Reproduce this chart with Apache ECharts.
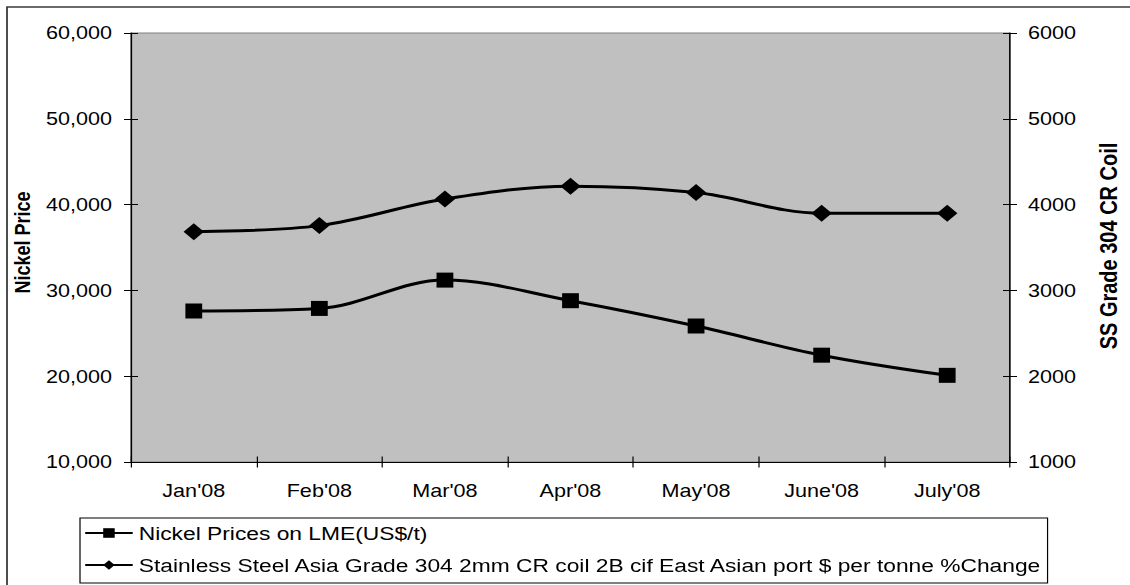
<!DOCTYPE html>
<html>
<head>
<meta charset="utf-8">
<title>Nickel and Stainless Steel Prices 2008</title>
<script src="https://cdn.jsdelivr.net/npm/echarts@6/dist/echarts.min.js"></script>
<style>
  html, body { margin: 0; padding: 0; background: #ffffff; overflow: hidden; }
  #wrap { position: relative; width: 1130px; height: 585px; overflow: hidden; background: #ffffff; }
  #chart { position: absolute; left: 0; top: 0; height: 585px; transform-origin: 0 0; }
</style>
</head>
<body>
<div id="wrap"><div id="chart"></div></div>
<script>
// ---- data ----
const months = ["Jan'08", "Feb'08", "Mar'08", "Apr'08", "May'08", "June'08", "July'08"];
const nickelPrices = [27600, 27900, 31200, 28800, 25850, 22450, 20100];   // US$/t, left axis
const steelPrices = [3685, 3755, 4065, 4215, 4140, 3900, 3900];           // $/tonne, right axis
const nickelAxis = { min: 10000, max: 60000, step: 10000 };
const steelAxis = { min: 1000, max: 6000, step: 1000 };
const nickelName = 'Nickel Prices on LME(US$/t)';
const steelName = 'Stainless Steel Asia Grade 304 2mm CR coil 2B cif East Asian port $ per tonne %Change';
const leftTitle = 'Nickel Price';
const rightTitle = 'SS Grade 304 CR Coil';

// ---- layout ----
// The whole chart is drawn with a wide horizontal aspect: it is laid out
// in a narrower box and stretched sideways by SX.
const SX = 1.2;
const W = 1130, H = 585;
const hx = v => v / SX;           // page x distance -> chart units

const FONT = '"Liberation Sans", Arial, Helvetica, sans-serif';
const INK = '#000000';

const el = document.getElementById('chart');
el.style.width = (W / SX) + 'px';
el.style.transform = 'scaleX(' + SX + ')';

const chart = echarts.init(el, null, { renderer: 'svg', width: W / SX, height: H });

const tickLabel = { color: INK, fontFamily: FONT, fontSize: 18, fontWeight: 'normal' };

function valueAxis(range, position, extra) {
  return Object.assign({
    type: 'value',
    position: position,
    min: range.min,
    max: range.max,
    interval: range.step,
    splitLine: { show: false },
    axisLine: { show: true, lineStyle: { color: INK, width: 1.2 } },
    axisTick: { show: true, length: hx(7), lineStyle: { color: INK, width: 1 } },
    axisLabel: Object.assign({ margin: hx(19) }, tickLabel)
  }, extra || {});
}

// inner half of the crossing tick marks
function innerTicks(range, position) {
  return {
    type: 'value',
    position: position,
    min: range.min,
    max: range.max,
    interval: range.step,
    splitLine: { show: false },
    axisLine: { show: false },
    axisLabel: { show: false },
    axisTick: { show: true, inside: true, length: hx(7), lineStyle: { color: INK, width: 1 } }
  };
}

const option = {
  animation: false,
  backgroundColor: '#ffffff',
  textStyle: { fontFamily: FONT, color: INK },
  graphic: [{
    type: 'rect',
    silent: true,
    z: -10,
    shape: { x: hx(7), y: 7, width: hx(1400), height: 800 },
    style: { fill: 'none', stroke: '#3a3a3a', lineWidth: 1.5 }
  }],
  grid: {
    left: hx(131),
    right: hx(W - 1019),
    top: 33,
    bottom: H - 462,
    show: true,
    backgroundColor: '#c0c0c0',
    borderColor: '#808080',
    borderWidth: 1
  },
  legend: {
    orient: 'vertical',
    left: hx(80),
    top: 518,
    padding: [5, hx(4), 8, hx(4)],
    itemGap: 12,
    itemWidth: hx(47.5),
    itemHeight: 12,
    borderColor: INK,
    borderWidth: 1,
    borderRadius: 0,
    backgroundColor: '#ffffff',
    selectedMode: false,
    lineStyle: { width: 2 },
    textStyle: { fontFamily: FONT, fontSize: 19, lineHeight: 20, color: INK },
    data: [nickelName, steelName]
  },
  xAxis: [{
    type: 'category',
    data: months,
    position: 'bottom',
    boundaryGap: true,
    axisLine: { show: true, onZero: false, lineStyle: { color: INK, width: 1.2 } },
    axisTick: { show: true, length: 5.5, lineStyle: { color: INK, width: 1 } },
    axisLabel: Object.assign({ margin: 20, interval: 0 }, tickLabel),
    splitLine: { show: false }
  }, {
    type: 'category',
    data: months,
    position: 'bottom',
    boundaryGap: true,
    axisLine: { show: false, onZero: false },
    axisLabel: { show: false },
    axisTick: { show: true, inside: true, length: 5.5, lineStyle: { color: INK, width: 1 } },
    splitLine: { show: false }
  }],
  yAxis: [
    valueAxis(nickelAxis, 'left', {
      axisLabel: Object.assign({ margin: hx(19), formatter: v => v.toLocaleString('en-US') }, tickLabel),
      name: leftTitle,
      nameLocation: 'middle',
      nameGap: 79,
      nameTextStyle: { fontFamily: FONT, fontSize: 18, fontWeight: 'bold', color: INK, padding: [0, 0, 0, 10] }
    }),
    valueAxis(steelAxis, 'right', {
      axisLabel: Object.assign({ margin: hx(18), formatter: v => String(v) }, tickLabel),
      name: rightTitle,
      nameLocation: 'middle',
      nameGap: 72,
      nameTextStyle: { fontFamily: FONT, fontSize: 20, fontWeight: 'bold', color: INK, padding: [0, 0, 0, 3] }
    }),
    innerTicks(nickelAxis, 'left'),
    innerTicks(steelAxis, 'right')
  ],
  series: [{
    name: nickelName,
    type: 'line',
    xAxisIndex: 0,
    yAxisIndex: 0,
    data: nickelPrices,
    smooth: 0.35,
    symbol: 'rect',
    symbolSize: [14, 15],
    showAllSymbol: true,
    lineStyle: { color: INK, width: 3 },
    itemStyle: { color: INK, borderWidth: 0 },
    emphasis: { disabled: true },
    z: 3
  }, {
    name: steelName,
    type: 'line',
    xAxisIndex: 0,
    yAxisIndex: 1,
    data: steelPrices,
    smooth: 0.35,
    symbol: 'diamond',
    symbolSize: 17,
    showAllSymbol: true,
    lineStyle: { color: INK, width: 3 },
    itemStyle: { color: INK, borderWidth: 0 },
    emphasis: { disabled: true },
    z: 3
  }]
};

chart.setOption(option);
</script>
</body>
</html>
